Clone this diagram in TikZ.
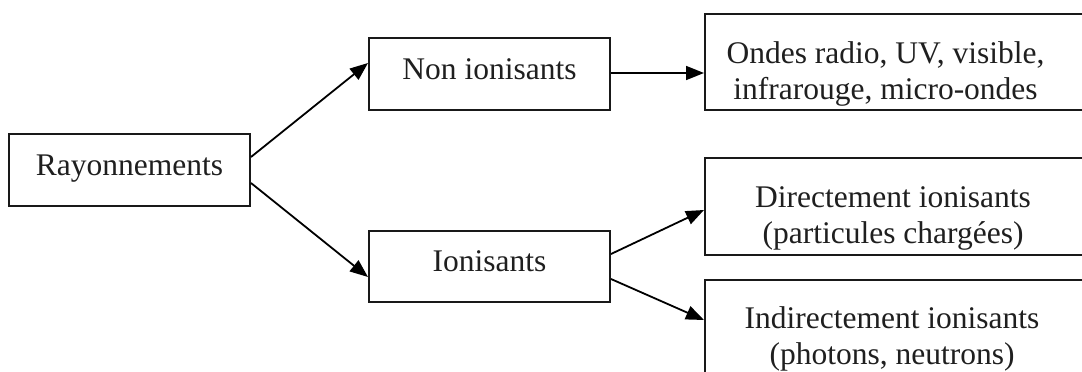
\documentclass[tikz,border=0pt]{standalone}
\usepackage{fontspec}
\setmainfont{Liberation Serif}
\usetikzlibrary{arrows.meta,calc}
\begin{document}
\begin{tikzpicture}[x=1pt,y=-1pt,
  box/.style={draw=black!90, line width=2pt, rectangle, inner sep=0pt},
  txt/.style={inner sep=0pt, anchor=base, font=\fontsize{31.5}{36}\selectfont, text=black!88},
  arr/.style={line width=1.8pt, -{Triangle[length=18pt,width=14pt]}}]
\useasboundingbox (0,0) rectangle (1082,372);
% boxes
\node[box, minimum width=241pt, minimum height=72pt] (ray) at (129.5,170) {};
\node[box, minimum width=241pt, minimum height=72pt] (non) at (489.5,74) {};
\node[box, minimum width=241pt, minimum height=71pt] (ion) at (489.5,266.5) {};
\node[box, minimum width=395pt, minimum height=96pt] (ond) at (902.5,62) {};
\node[box, minimum width=395pt, minimum height=97pt] (dir) at (902.5,206.5) {};
\node[box, minimum width=395pt, minimum height=100pt] (ind) at (902.5,330) {};
% texts
\node[txt] (rayT) at (129.5,175) {Rayonnements};
\node[txt] (nonT) at (489.5,79) {Non ionisants};
\node[txt] (ionT) at (489.5,271) {Ionisants};
\node[txt] (ondT1) at (885.5,63) {Ondes radio, UV, visible,};
\node[txt] (ondT2) at (885.5,99) {infrarouge, micro-ondes};
\node[txt] (dirT1) at (893,207) {Directement ionisants};
\node[txt] (dirT2) at (893,243) {(particules chargées)};
\node[txt] (indT1) at (892,328) {Indirectement ionisants};
\node[txt] (indT2) at (892,364) {(photons, neutrons)};
% connector end points
\coordinate (nonE) at ($(non.east)+(0,-1)$);
\coordinate (ondW) at (nonE -| ond.west);
% connectors
\draw[arr] ($(ray.east)+(0,-13)$) -- ($(non.west)+(0,-11)$);
\draw[arr] ($(ray.east)+(0,13)$) -- ($(ion.west)+(0,10.5)$);
\draw[arr] (nonE) -- (ondW);
\draw[arr] ($(ion.east)+(0,-12.5)$) -- ($(dir.west)+(0,3.5)$);
\draw[arr] ($(ion.east)+(0,12.5)$) -- ($(ind.west)+(0,-10)$);
\end{tikzpicture}
\end{document}
